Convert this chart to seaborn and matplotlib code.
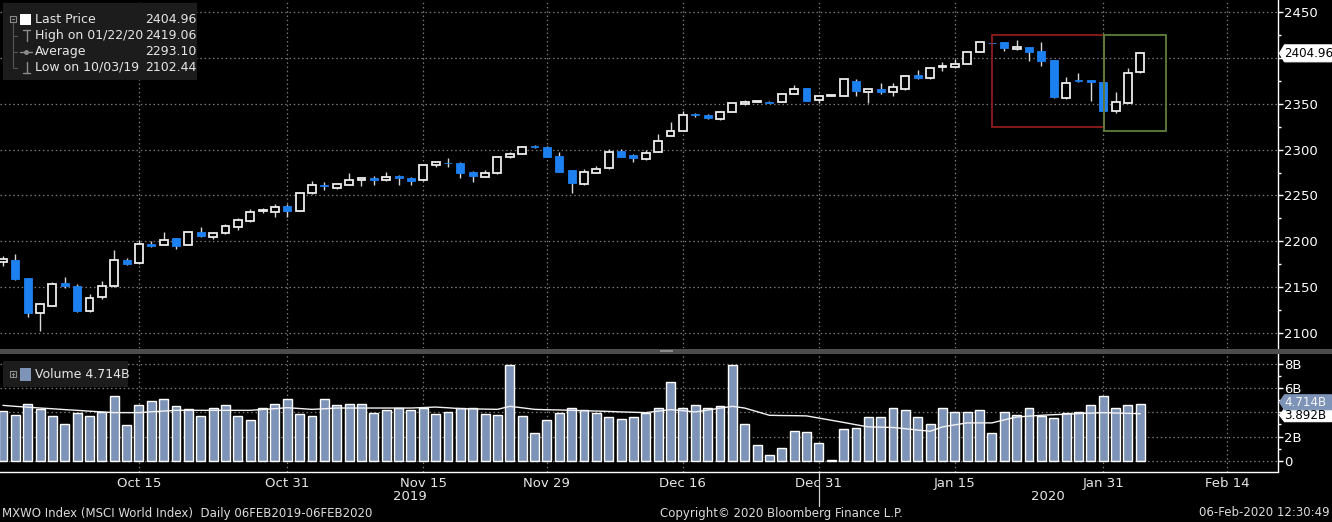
import numpy as np
import pandas as pd
import matplotlib
matplotlib.use("Agg")
import matplotlib.pyplot as plt
import seaborn as sns
from matplotlib.patches import Rectangle, Polygon
from matplotlib.lines import Line2D
from matplotlib.ticker import MultipleLocator

# MXWO Index daily candles, one per weekday from 30 Sep 2019
opens = [
    2177.0, 2180.0, 2160.0, 2122.0, 2130.0, 2155.0, 2151.0, 2123.6, 2138.8, 2150.8,
    2180.0, 2176.3, 2197.0, 2196.2, 2203.5, 2196.2, 2210.1, 2204.2, 2209.0, 2215.1,
    2222.4, 2233.0, 2231.9, 2239.0, 2233.6, 2252.5, 2260.9, 2258.6, 2261.3, 2266.7,
    2269.5, 2266.7, 2271.7, 2269.5, 2266.7, 2283.0, 2285.6, 2285.9, 2275.7, 2270.3,
    2274.3, 2291.8, 2295.7, 2303.5, 2302.7, 2293.2, 2277.9, 2262.7, 2275.0, 2279.8,
    2298.6, 2294.3, 2289.6, 2297.9, 2315.0, 2320.4, 2338.3, 2337.8, 2333.1, 2341.4,
    2349.5, 2352.0, 2351.6, 2352.3, 2361.0, 2366.9, 2353.8, 2358.5, 2358.8, 2375.2,
    2363.2, 2365.8, 2363.2, 2366.2, 2381.4, 2377.8, 2390.2, 2389.8, 2393.4, 2406.8,
    2416.2, 2417.0, 2409.4, 2411.6, 2407.5, 2397.7, 2356.7, 2375.2, 2376.0, 2373.5,
    2342.5, 2351.2, 2384.3]
highs = [
    2184.0, 2186.4, 2160.5, 2132.0, 2155.2, 2160.6, 2153.7, 2142.5, 2156.3, 2190.8,
    2181.5, 2201.7, 2199.9, 2210.1, 2204.0, 2211.5, 2215.1, 2210.1, 2219.1, 2225.6,
    2235.1, 2236.2, 2240.9, 2240.9, 2253.0, 2265.9, 2264.5, 2264.1, 2274.3, 2270.0,
    2271.4, 2276.1, 2272.2, 2270.0, 2284.0, 2288.0, 2290.7, 2286.5, 2276.2, 2277.9,
    2292.5, 2297.9, 2304.0, 2305.5, 2304.0, 2297.9, 2278.3, 2278.7, 2282.6, 2300.5,
    2300.5, 2295.4, 2299.7, 2316.8, 2330.5, 2342.2, 2339.5, 2338.3, 2342.2, 2351.0,
    2354.2, 2353.0, 2352.5, 2361.5, 2370.5, 2367.5, 2359.3, 2359.2, 2377.5, 2376.5,
    2366.5, 2373.0, 2373.0, 2381.3, 2386.9, 2390.0, 2395.9, 2398.5, 2407.3, 2417.5,
    2416.5, 2417.3, 2419.06, 2412.0, 2417.0, 2398.0, 2378.9, 2383.9, 2376.3, 2374.0,
    2362.6, 2389.4, 2406.3]
lows = [
    2173.0, 2158.0, 2117.5, 2102.44, 2129.0, 2149.1, 2123.0, 2122.5, 2137.1, 2150.0,
    2174.5, 2175.5, 2193.7, 2195.5, 2191.9, 2195.5, 2205.0, 2202.8, 2208.5, 2212.6,
    2221.5, 2230.8, 2227.0, 2227.0, 2233.0, 2252.0, 2256.1, 2256.9, 2261.0, 2260.5,
    2261.6, 2265.6, 2261.6, 2261.6, 2266.2, 2280.5, 2281.5, 2268.9, 2265.2, 2269.8,
    2273.8, 2291.3, 2295.2, 2301.5, 2292.0, 2275.5, 2252.5, 2261.6, 2274.5, 2279.3,
    2292.0, 2287.0, 2289.1, 2297.4, 2314.5, 2320.0, 2336.0, 2333.5, 2332.5, 2341.0,
    2349.0, 2351.5, 2350.3, 2352.0, 2360.5, 2353.0, 2350.6, 2358.2, 2358.5, 2358.8,
    2350.6, 2360.7, 2358.8, 2365.5, 2376.7, 2377.0, 2386.1, 2389.0, 2393.0, 2406.3,
    2415.4, 2407.9, 2409.0, 2397.0, 2391.2, 2356.5, 2355.3, 2374.2, 2353.4, 2342.0,
    2339.7, 2350.8, 2384.0]
closes = [
    2181.0, 2159.0, 2122.0, 2131.6, 2154.0, 2151.0, 2123.6, 2138.2, 2150.8, 2179.9,
    2175.2, 2197.0, 2195.1, 2201.7, 2195.1, 2210.1, 2205.3, 2209.0, 2216.2, 2223.5,
    2232.2, 2233.6, 2237.9, 2233.6, 2252.5, 2261.6, 2260.2, 2262.3, 2267.4, 2269.5,
    2266.7, 2270.6, 2268.9, 2265.6, 2283.4, 2286.3, 2284.9, 2275.0, 2271.4, 2274.7,
    2291.8, 2295.4, 2303.3, 2302.9, 2292.4, 2276.1, 2263.4, 2275.7, 2279.0, 2297.2,
    2292.4, 2290.6, 2296.1, 2309.9, 2320.7, 2337.8, 2337.6, 2334.2, 2340.8, 2350.6,
    2351.7, 2352.5, 2351.0, 2361.0, 2365.8, 2353.4, 2358.8, 2358.9, 2377.0, 2364.3,
    2365.8, 2363.2, 2368.0, 2380.6, 2377.8, 2389.4, 2390.6, 2393.4, 2406.8, 2417.0,
    2415.7, 2410.5, 2411.6, 2406.8, 2396.7, 2357.1, 2373.0, 2374.6, 2373.5, 2342.5,
    2352.3, 2383.9, 2404.96]

# volume in billions and its moving average
volume = [
    4.09, 3.76, 4.72, 4.26, 3.68, 3.02, 3.93, 3.68, 4.04, 5.38,
    2.94, 4.58, 4.91, 5.13, 4.53, 4.31, 3.68, 4.39, 4.58, 3.68,
    3.35, 4.39, 4.72, 5.08, 3.84, 3.68, 5.13, 4.58, 4.72, 4.72,
    3.93, 4.20, 4.39, 4.20, 4.39, 3.84, 4.04, 4.39, 4.39, 3.84,
    3.76, 7.96, 3.68, 2.30, 3.35, 3.93, 4.39, 4.20, 3.93, 3.60,
    3.43, 3.60, 3.93, 4.34, 6.50, 4.39, 4.64, 4.39, 4.50, 7.96,
    3.02, 1.29, 0.47, 1.02, 2.44, 2.39, 1.43, 0.04, 2.61, 2.72,
    3.60, 3.60, 4.34, 4.17, 3.60, 3.02, 4.34, 4.01, 4.01, 4.17,
    2.30, 4.01, 3.76, 4.34, 3.68, 3.51, 3.93, 4.01, 4.58, 5.33,
    4.34, 4.58, 4.714]
vol_ma = [
    4.58, 4.50, 4.43, 4.36, 4.30, 4.23, 4.17, 4.10, 4.04, 3.98,
    3.98, 3.98, 4.05, 4.11, 4.17, 4.17, 4.17, 4.17, 4.17, 4.17,
    4.17, 4.24, 4.31, 4.39, 4.32, 4.25, 4.30, 4.36, 4.36, 4.36,
    4.36, 4.36, 4.36, 4.36, 4.40, 4.44, 4.38, 4.31, 4.29, 4.27,
    4.25, 4.50, 4.38, 4.25, 4.22, 4.20, 4.17, 4.14, 4.11, 4.08,
    4.04, 4.01, 3.98, 4.10, 4.23, 4.14, 4.04, 4.19, 4.35, 4.50,
    4.36, 4.06, 3.76, 3.74, 3.73, 3.71, 3.53, 3.35, 3.17, 2.98,
    2.80, 2.78, 2.75, 2.65, 2.54, 2.44, 2.80, 2.97, 3.13, 3.13,
    3.13, 3.38, 3.62, 3.69, 3.76, 3.81, 3.85, 3.90, 3.94, 3.98,
    3.95, 3.92, 3.89]

tick_pos = [11, 23, 34, 44, 55, 66, 77, 89, 99]
tick_labels = ["Oct 15", "Oct 31", "Nov 15", "Nov 29", "Dec 16",
               "Dec 31", "Jan 15", "Jan 31", "Feb 14"]
minor_pos = [6, 17, 29, 39, 50, 60, 72, 83, 94]
year_split = 66
years = ["2019", "2020"]

price_ticks = [2100, 2150, 2200, 2250, 2300, 2350, 2400, 2450]
price_tick_labels = ["2100", "2150", "2200", "2250", "2300", "2350", "", "2450"]
vol_ticks = [0, 2, 6, 8]
vol_tick_labels = ["0", "2B", "6B", "8B"]

legend_rows = ["Last Price", "High on 01/22/20", "Average", "Low on 10/03/19"]
legend_vals = ["2404.96", "2419.06", "2293.10", "2102.44"]
last_price = 2404.96
last_volume = 4.714
last_vol_ma = 3.892

# highlighted zones (x in candle index, y in price)
red_zone = (80.0, 89.04, 2324.8, 2425.0)
green_zone = (89.04, 94.05, 2320.4, 2425.0)

# ---------------------------------------------------------------
sns.set_theme(style="dark", rc={"axes.facecolor": "black",
                                "figure.facecolor": "black",
                                "axes.grid": False})
plt.rcParams["font.family"] = ["DejaVu Sans"]

W, H = 1332, 522
BLUE = "#1c80f0"
VOLC = "#7e93b8"
GRID = "#7a7a7a"
TXT = "#e6e6e6"

fig = plt.figure(figsize=(W / 100, H / 100), dpi=100)
fig.patch.set_facecolor("black")


def frect(x0, y0, x1, y1):
    return [x0 / W, 1 - y1 / H, (x1 - x0) / W, (y1 - y0) / H]


def fp(x, y):
    return x / W, 1 - y / H


ax_p = fig.add_axes(frect(0, 0, 1277.5, 348))
ax_v = fig.add_axes(frect(0, 354, 1277.5, 471.5))
xlim = (-0.24, 103.1)

# --- candles ---
df = pd.DataFrame({"o": opens, "h": highs, "l": lows, "c": closes})
idx = np.arange(len(df))
up = (df.c >= df.o).values
body_lo = np.minimum(df.o, df.c).values
body_h = np.maximum((df.c - df.o).abs().values, 0.9)

ax_p.vlines(idx, df.l, df.h, color="#d8d8d8", lw=1.0, zorder=3)
ax_p.bar(idx[up], body_h[up], bottom=body_lo[up], width=0.64,
         facecolor="black", edgecolor="#ececec", linewidth=1.3, zorder=4)
ax_p.bar(idx[~up], body_h[~up], bottom=body_lo[~up], width=0.64,
         facecolor=BLUE, edgecolor=BLUE, linewidth=0.6, zorder=4)

for (x0, x1, y0, y1), col in [(red_zone, "#8e1d1d"), (green_zone, "#5f7f3e")]:
    ax_p.add_patch(Rectangle((x0, y0), x1 - x0, y1 - y0, fill=False,
                             edgecolor=col, lw=1.3, zorder=5))

for v in price_ticks:
    ax_p.axhline(v, color=GRID, lw=0.9, ls=(0, (1.2, 2.2)), zorder=1)
for p in tick_pos:
    ax_p.axvline(p, color=GRID, lw=0.9, ls=(0, (1.2, 2.2)), zorder=1)

ax_p.set_xlim(xlim)
ax_p.set_ylim(2083.7, 2463.1)
ax_p.yaxis.tick_right()
ax_p.set_yticks(price_ticks)
ax_p.set_yticklabels(price_tick_labels)
ax_p.yaxis.set_minor_locator(MultipleLocator(25))
ax_p.tick_params(axis="y", which="major", direction="out", length=3.5, width=1,
                 colors="white", labelsize=9.5, pad=1.5)
ax_p.tick_params(axis="y", which="minor", direction="out", length=2.5, width=1,
                 colors="white")
ax_p.tick_params(axis="x", bottom=False, labelbottom=False)
for s in ["left", "top", "bottom"]:
    ax_p.spines[s].set_visible(False)
ax_p.spines["right"].set_color("white")
ax_p.spines["right"].set_linewidth(1.0)

# --- volume ---
sns.barplot(x=idx, y=volume, color=VOLC, saturation=1, width=0.72,
            errorbar=None, ax=ax_v, zorder=3)
sns.lineplot(x=idx, y=vol_ma, color="#f2f2f2", linewidth=1.0, ax=ax_v, zorder=4)
ax_v.set_xlabel("")
ax_v.set_ylabel("")
for v in [0, 2, 4, 6, 8]:
    ax_v.axhline(v, color=GRID, lw=0.9, ls=(0, (1.2, 2.2)), zorder=1)
for p in tick_pos:
    ax_v.axvline(p, color=GRID, lw=0.9, ls=(0, (1.2, 2.2)), zorder=1)

ax_v.set_xlim(xlim)
ax_v.set_ylim(-0.89, 8.83)
ax_v.yaxis.tick_right()
ax_v.set_yticks(vol_ticks)
ax_v.set_yticklabels(vol_tick_labels)
ax_v.yaxis.set_minor_locator(MultipleLocator(1))
ax_v.tick_params(axis="y", which="major", direction="out", length=3.5, width=1,
                 colors="white", labelsize=9.5, pad=1.5)
ax_v.tick_params(axis="y", which="minor", direction="out", length=2.5, width=1,
                 colors="white")
ax_v.set_xticks(tick_pos)
ax_v.set_xticklabels(tick_labels)
ax_v.set_xticks(minor_pos, minor=True)
ax_v.tick_params(axis="x", which="both", direction="out", length=2.8, width=1,
                 colors="white", labelsize=9.5, pad=1.5)
ax_v.tick_params(axis="x", which="major", labelcolor=TXT)
for s in ["left", "top"]:
    ax_v.spines[s].set_visible(False)
for s in ["right", "bottom"]:
    ax_v.spines[s].set_color("white")
    ax_v.spines[s].set_linewidth(1.0)

# year labels and year divider
xt = ax_v.get_xaxis_transform()
ax_v.add_line(Line2D([year_split, year_split], [0, -0.29], transform=xt,
                     color="#cfcfcf", lw=0.9, clip_on=False))
ax_v.text((xlim[0] + year_split) / 2, -0.21, years[0], transform=xt,
          ha="center", va="center", color=TXT, fontsize=9.5)
ax_v.text((year_split + xlim[1]) / 2, -0.21, years[1], transform=xt,
          ha="center", va="center", color=TXT, fontsize=9.5)

# separator between panels
fig.patches.append(Rectangle(fp(0, 353.5), 1, 5 / H, transform=fig.transFigure,
                             facecolor="#4c4c4c", edgecolor="none", zorder=6))
fig.patches.append(Rectangle(fp(660, 352), 13 / W, 2.5 / H, transform=fig.transFigure,
                             facecolor="#8a8a8a", edgecolor="none", zorder=7))


# --- value tags on the right axis ---
def y_px(ax, val):
    return H - ax.transData.transform((0, val))[1]


def tag(ypos, text, fc, tc, hh=8.5):
    x0, x1 = 1279.5, 1331.5
    pts = [(x0, ypos), (x0 + 5, ypos - hh), (x1, ypos - hh),
           (x1, ypos + hh), (x0 + 5, ypos + hh)]
    fig.patches.append(Polygon([fp(x, y) for x, y in pts], closed=True,
                               transform=fig.transFigure, facecolor=fc,
                               edgecolor=fc, lw=0.8, zorder=20))
    fig.text(*fp(x0 + 4.5, ypos), text, color=tc, fontsize=8.6,
             ha="left", va="center", zorder=21)


tag(y_px(ax_p, last_price), f"{last_price:.2f}", "white", "black")
tag(y_px(ax_v, last_vol_ma) + 1.5, f"{last_vol_ma:.3f}B", "white", "black", hh=6.5)
tag(y_px(ax_v, last_volume) - 1.5, f"{last_volume:.3f}B", VOLC, "#f4f4f4", hh=7.5)

# --- legend boxes ---
fig.patches.append(Rectangle(fp(3, 80), 194 / W, 77 / H, transform=fig.transFigure,
                             facecolor="#1c1c1c", edgecolor="none", zorder=8))
rows_y = [19.5, 35.5, 51.5, 67.5]
for lab, val, y in zip(legend_rows, legend_vals, rows_y):
    fig.text(*fp(35, y), lab, color=TXT, fontsize=9, va="center", zorder=9)
    fig.text(*fp(145, y), val, color=TXT, fontsize=9, va="center", zorder=9)

icon = "#8c8c8c"


def fline(xs, ys, **kw):
    fig.add_artist(Line2D([x / W for x in xs], [1 - y / H for y in ys],
                          transform=fig.transFigure, zorder=9, **kw))


fig.patches.append(Rectangle(fp(20, 25), 11 / W, 11 / H, transform=fig.transFigure,
                             facecolor="white", edgecolor="none", zorder=9))
fig.patches.append(Rectangle(fp(10, 21.5), 6 / W, 6 / H, transform=fig.transFigure,
                             facecolor="none", edgecolor=icon, lw=0.8, zorder=9))
fline([11.5, 14.5], [18.5, 18.5], color=icon, lw=0.8)
fline([13, 13], [21.5, 67.5], color="#555555", lw=0.8)
for y in rows_y[1:]:
    fline([13, 17], [y, y], color="#555555", lw=0.8)
fline([23, 30], [30, 30], color=icon, lw=1)
fline([26.5, 26.5], [30, 41], color=icon, lw=1)
fline([20, 32], [51.5, 51.5], color=icon, lw=1)
fline([26], [51.5], color=icon, marker="o", markersize=2.5, lw=0)
fline([26.5, 26.5], [62, 73], color=icon, lw=1)
fline([23, 30], [73, 73], color=icon, lw=1)

fig.patches.append(Rectangle(fp(3, 387), 125 / W, 26 / H, transform=fig.transFigure,
                             facecolor="#1c1c1c", edgecolor="none", zorder=8))
fig.patches.append(Rectangle(fp(10, 377), 6 / W, 6 / H, transform=fig.transFigure,
                             facecolor="none", edgecolor=icon, lw=0.8, zorder=9))
fline([11.5, 14.5], [374, 374], color=icon, lw=0.8)
fline([13, 13], [372.5, 375.5], color=icon, lw=0.8)
fig.patches.append(Rectangle(fp(20, 381), 11 / W, 13 / H, transform=fig.transFigure,
                             facecolor=VOLC, edgecolor="none", zorder=9))
fig.text(*fp(35, 374), f"Volume {last_volume:.3f}B", color=TXT, fontsize=9,
         va="center", zorder=9)

# --- footer ---
fig.text(*fp(2, 513), "MXWO Index (MSCI World Index)  Daily 06FEB2019-06FEB2020",
         color="#dcdcdc", fontsize=8.5, va="center", ha="left")
fig.text(*fp(781, 513), "Copyright\u00a9 2020 Bloomberg Finance L.P.",
         color="#dcdcdc", fontsize=8.5, va="center", ha="center")
fig.text(*fp(1330, 513), "06-Feb-2020 12:30:49",
         color="#dcdcdc", fontsize=8.5, va="center", ha="right")

fig.savefig("out.png", dpi=100, facecolor="black")
